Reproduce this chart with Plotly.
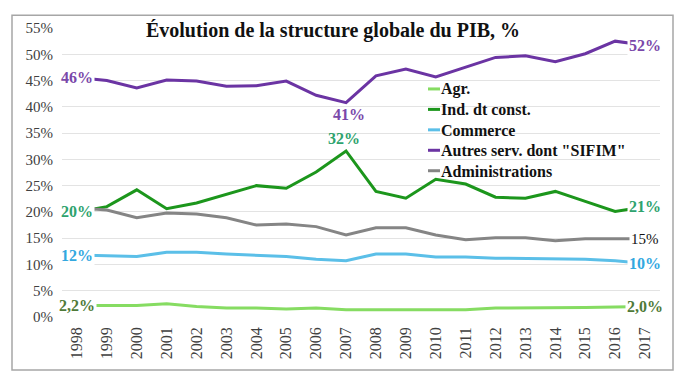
import plotly.graph_objects as go

years = ["1998", "1999", "2000", "2001", "2002", "2003", "2004", "2005", "2006", "2007",
         "2008", "2009", "2010", "2011", "2012", "2013", "2014", "2015", "2016", "2017"]

agr = [2.2, 2.2, 2.2, 2.5, 2.0, 1.7, 1.7, 1.5, 1.7, 1.4, 1.4, 1.5, 1.4, 1.4, 1.7, 1.7, 1.7, 1.8, 1.9, 2.0]
ind = [20.0, 21.0, 24.2, 20.6, 21.7, 23.4, 25.0, 24.5, 27.6, 31.6, 23.9, 22.6, 26.2, 25.3, 22.8, 22.6, 23.9, 22.0, 20.1, 21.0]
com = [11.8, 11.7, 11.5, 12.3, 12.3, 12.0, 11.7, 11.5, 11.0, 10.7, 12.0, 12.0, 11.4, 11.4, 11.2, 11.1, 11.1, 11.0, 10.7, 10.2]
autres = [45.6, 45.0, 43.6, 45.1, 44.9, 43.9, 44.0, 44.9, 42.2, 40.8, 45.9, 47.2, 45.7, 47.5, 49.4, 49.7, 48.6, 50.1, 52.5, 51.7]
adm = [20.8, 20.35, 18.9, 19.8, 19.6, 18.9, 17.5, 17.7, 17.2, 15.6, 17.0, 17.0, 15.6, 14.7, 15.1, 15.1, 14.5, 14.9, 14.9, 14.9]

names = ["Agr.", "Ind. dt const.", "Commerce", 'Autres serv. dont "SIFIM"', "Administrations"]
line_colors = ["#86DC62", "#1C961C", "#5BBFE8", "#6B34A3", "#858585"]
label_colors = ["#4F7A38", "#2EA36E", "#33A8DF", "#7A48AA", "#111111"]
series = [agr, ind, com, autres, adm]

ytick_vals = [0, 5, 10, 15, 20, 25, 30, 35, 40, 45, 50, 55]
ytick_text = [f"{v}%" for v in ytick_vals]

SERIF = "Liberation Serif, Times New Roman, serif"

# the page body adds an 8px margin, so the figure is drawn 8px smaller and offset
OFF = 8
W, H = 684 - 2 * OFF, 385 - 2 * OFF
L, T = 62 - OFF, 23 - OFF
R = W - (660 - OFF)
B = H - (317 - OFF)
PW, PH = W - L - R, H - T - B


def px_x(p):  # reference-image pixel -> paper x
    return (p - OFF - L) / PW


def px_y(p):  # reference-image pixel -> paper y
    return (H - B - (p - OFF)) / PH


fig = go.Figure()
for name, vals, col in zip(names, series, line_colors):
    fig.add_trace(go.Scatter(x=years, y=vals, mode="lines", name=name,
                             line=dict(color=col, width=3), showlegend=False))


def fmt(v, dec=False):
    if dec:
        return f"{v:.1f}".replace(".", ",") + "%"
    return f"{round(v)}%"


first, last = 0, len(years) - 1
annotations = []
start_labels = [(agr, 0, True), (ind, 1, False), (com, 2, False), (autres, 3, False)]
end_labels = [(agr, 0, True), (ind, 1, False), (com, 2, False), (autres, 3, False), (adm, 4, False)]
for vals, k, dec in start_labels:
    annotations.append(dict(x=first, y=vals[first], text=fmt(vals[first], dec), showarrow=False,
                            xanchor="center", yanchor="middle", bgcolor="white", borderpad=1,
                            font=dict(family=SERIF, size=16, color=label_colors[k], weight="bold")))
for vals, k, dec in end_labels:
    bold = k != 4
    annotations.append(dict(x=last, y=vals[last], text=fmt(vals[last], dec), showarrow=False,
                            xanchor="center", yanchor="middle", bgcolor="white", borderpad=1,
                            font=dict(family=SERIF, size=16 if bold else 15, color=label_colors[k],
                                      weight="bold" if bold else "normal")))
i_min = autres.index(min(autres))
annotations.append(dict(x=i_min, y=autres[i_min], text=fmt(autres[i_min]), showarrow=False,
                        xanchor="center", yanchor="middle", yshift=-12, xshift=3,
                        font=dict(family=SERIF, size=16, color=label_colors[3], weight="bold")))
i_max = ind.index(max(ind))
annotations.append(dict(x=i_max, y=ind[i_max], text=fmt(ind[i_max]), showarrow=False,
                        xanchor="center", yanchor="middle", yshift=12, xshift=-2,
                        font=dict(family=SERIF, size=16, color=label_colors[1], weight="bold")))

# custom legend: one multi-line bold text block + short coloured line markers
LEG_FONT = 16
LINE_H = LEG_FONT * 1.3
LEG_MID = 126.6  # vertical centre of the legend block (reference px)
shapes = []
n = len(names)
for i, col in enumerate(line_colors):
    yc = px_y(LEG_MID + LINE_H * (i - (n - 1) / 2))
    shapes.append(dict(type="line", xref="paper", yref="paper",
                       x0=px_x(428), x1=px_x(440), y0=yc, y1=yc,
                       line=dict(color=col, width=3)))
annotations.append(dict(xref="paper", yref="paper", x=px_x(440), y=px_y(LEG_MID),
                        text="<br>".join(names), align="left",
                        showarrow=False, xanchor="left", yanchor="middle", borderpad=0,
                        font=dict(family=SERIF, size=LEG_FONT, color="#111111", weight="bold")))

shapes.append(dict(type="rect", xref="paper", yref="paper",
                   x0=px_x(12), x1=px_x(673), y0=px_y(371), y1=px_y(10),
                   line=dict(color="#A6A6A6", width=1.5), fillcolor="rgba(0,0,0,0)",
                   layer="below"))

fig.update_layout(
    width=W, height=H,
    margin=dict(l=L, r=R, t=T, b=B, pad=0),
    paper_bgcolor="white", plot_bgcolor="white",
    title=dict(text="<b>Évolution de la structure globale du PIB, %</b>",
               font=dict(family=SERIF, size=20, color="#111111"),
               x=px_x(333), xref="paper", xanchor="center",
               y=1 - (30 - OFF) / H, yref="container", yanchor="middle"),
    showlegend=False,
    xaxis=dict(type="category", range=[-0.5, 19.5], tickangle=-90, showgrid=False,
               ticks="", tickfont=dict(family=SERIF, size=16, color="#404040"),
               ticklabelstandoff=6, showline=False, zeroline=False),
    yaxis=dict(range=[0, 55], tickvals=ytick_vals, ticktext=ytick_text,
               showgrid=True, gridcolor="#E3E3E3", gridwidth=1, zeroline=False,
               tickfont=dict(family=SERIF, size=15, color="#404040"), ticks="",
               ticklabelstandoff=8),
    annotations=annotations,
    shapes=shapes,
)

fig.write_html("out.html")
